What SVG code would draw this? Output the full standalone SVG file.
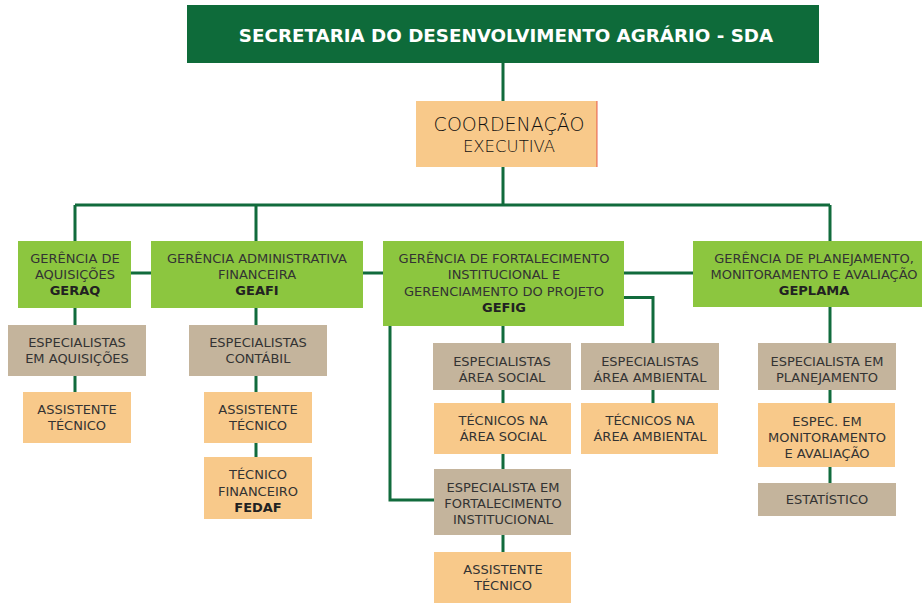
<svg xmlns="http://www.w3.org/2000/svg" width="922" height="603" viewBox="0 0 922 603">
<style>
.ln{stroke:#116b3c;stroke-width:3;fill:none}
.g{fill:#8cc63f}
.t{fill:#c4b49c}
.o{fill:#f8c98a}
text{font-family:"DejaVu Sans","Liberation Sans",sans-serif;font-size:13px;fill:#333;text-anchor:middle}
.b{font-weight:bold;fill:#222}
</style>
<rect width="922" height="603" fill="#fff"/>
<g id="connectors">
<path class="ln" d="M503 63V101M503 167V205M75 205H830M75 205V241M256 205V241M830 205V241"/>
<path class="ln" d="M131 273H151M363 273H383M624 273H693"/>
<path class="ln" d="M75 308V392M256 308V457"/>
<path class="ln" d="M390 326V500H434M503 326V552M624 297.5H653V403"/>
<path class="ln" d="M830 307V483"/>
</g>
<g id="sda">
<rect x="187" y="5" width="632" height="58" fill="#0e6b3a"/>
<text x="506" y="42" style="font-size:18.3px;font-weight:bold;fill:#fff">SECRETARIA DO DESENVOLVIMENTO AGRÁRIO - SDA</text>
</g>
<g id="coord">
<rect class="o" x="416" y="101" width="181" height="66"/>
<line x1="597" y1="101" x2="597" y2="167" stroke="#e0352b" stroke-width="0.8"/>
<text x="509" y="131" style="font-size:19px;font-weight:200;fill:#111">COORDENAÇÃO</text>
<text x="509" y="152" style="font-size:16.5px;font-weight:200;fill:#111">EXECUTIVA</text>
</g>
<g id="geraq">
<rect class="g" x="18" y="241" width="113" height="67"/>
<text x="75" y="263">GERÊNCIA DE</text>
<text x="75" y="279">AQUISIÇÕES</text>
<text class="b" x="75" y="295">GERAQ</text>
</g>
<g id="geafi">
<rect class="g" x="151" y="241" width="212" height="67"/>
<text x="257" y="263">GERÊNCIA ADMINISTRATIVA</text>
<text x="257" y="279">FINANCEIRA</text>
<text class="b" x="257" y="295">GEAFI</text>
</g>
<g id="gefig">
<rect class="g" x="383" y="241" width="241" height="85"/>
<text x="504" y="263">GERÊNCIA DE FORTALECIMENTO</text>
<text x="504" y="279">INSTITUCIONAL E</text>
<text x="504" y="295.5">GERENCIAMENTO DO PROJETO</text>
<text class="b" x="504" y="312">GEFIG</text>
</g>
<g id="geplama">
<rect class="g" x="693" y="241" width="229" height="66"/>
<text x="814" y="263">GERÊNCIA DE PLANEJAMENTO,</text>
<text x="814" y="279">MONITORAMENTO E AVALIAÇÃO</text>
<text class="b" x="814" y="295">GEPLAMA</text>
</g>
<g id="esp-aquisicoes">
<rect class="t" x="8" y="325" width="138" height="51"/>
<text x="77" y="347">ESPECIALISTAS</text>
<text x="77" y="363">EM AQUISIÇÕES</text>
</g>
<g id="assist-aq">
<rect class="o" x="23" y="392" width="108" height="51"/>
<text x="77" y="414">ASSISTENTE</text>
<text x="77" y="430">TÉCNICO</text>
</g>
<g id="esp-contabil">
<rect class="t" x="189" y="325" width="138" height="51"/>
<text x="258" y="347">ESPECIALISTAS</text>
<text x="258" y="363">CONTÁBIL</text>
</g>
<g id="assist-fin">
<rect class="o" x="204" y="392" width="108" height="51"/>
<text x="258" y="414">ASSISTENTE</text>
<text x="258" y="430">TÉCNICO</text>
</g>
<g id="tec-fin">
<rect class="o" x="204" y="457" width="108" height="62"/>
<text x="258" y="479">TÉCNICO</text>
<text x="258" y="496">FINANCEIRO</text>
<text class="b" x="258" y="512">FEDAF</text>
</g>
<g id="esp-social">
<rect class="t" x="433" y="343" width="138" height="47"/>
<text x="502" y="365.5">ESPECIALISTAS</text>
<text x="502" y="381.5">ÁREA SOCIAL</text>
</g>
<g id="tec-social">
<rect class="o" x="434" y="403" width="137" height="51"/>
<text x="503" y="425">TÉCNICOS NA</text>
<text x="503" y="441">ÁREA SOCIAL</text>
</g>
<g id="esp-ambiental">
<rect class="t" x="581" y="343" width="138" height="47"/>
<text x="650" y="365.5">ESPECIALISTAS</text>
<text x="650" y="381.5">ÁREA AMBIENTAL</text>
</g>
<g id="tec-ambiental">
<rect class="o" x="581" y="403" width="137" height="51"/>
<text x="650" y="425">TÉCNICOS NA</text>
<text x="650" y="441">ÁREA AMBIENTAL</text>
</g>
<g id="esp-fortalecimento">
<rect class="t" x="434" y="469" width="137" height="66"/>
<text x="503" y="491.5">ESPECIALISTA EM</text>
<text x="503" y="507.5">FORTALECIMENTO</text>
<text x="503" y="524">INSTITUCIONAL</text>
</g>
<g id="assist-gefig">
<rect class="o" x="434" y="552" width="137" height="51"/>
<text x="503" y="574">ASSISTENTE</text>
<text x="503" y="590">TÉCNICO</text>
</g>
<g id="esp-planejamento">
<rect class="t" x="758" y="343" width="138" height="47"/>
<text x="827" y="365.5">ESPECIALISTA EM</text>
<text x="827" y="381.5">PLANEJAMENTO</text>
</g>
<g id="esp-monitoramento">
<rect class="o" x="758" y="403" width="137" height="64"/>
<text x="827" y="426">ESPEC. EM</text>
<text x="827" y="442">MONITORAMENTO</text>
<text x="827" y="458">E AVALIAÇÃO</text>
</g>
<g id="estatistico">
<rect class="t" x="758" y="483" width="138" height="33"/>
<text x="827" y="504">ESTATÍSTICO</text>
</g>
</svg>
